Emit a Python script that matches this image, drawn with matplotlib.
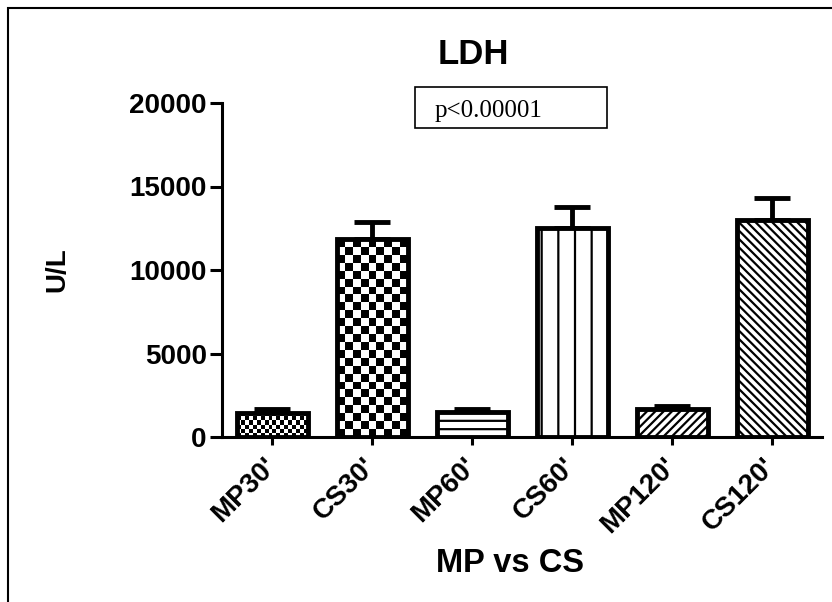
import numpy as np
import matplotlib
matplotlib.use('Agg')
import matplotlib.pyplot as plt
from matplotlib.patches import Rectangle

W, H = 832, 602

groups = ["MP30'", "CS30'", "MP60'", "CS60'", "MP120'", "CS120'"]
ldh_mean = [1450, 11850, 1500, 12500, 1650, 13000]
ldh_sem = [200, 1050, 200, 1290, 220, 1340]
yticks = [0, 5000, 10000, 15000, 20000]

# fill style per bar: ('check', square size px) or hatch string
fills = [('check', 4), ('check', 8), ('hatch', '--'), ('hatch', '|'),
         ('hatch', '////'), ('hatch', '\\\\\\\\')]

plt.rcParams['font.family'] = ['Liberation Sans', 'DejaVu Sans']
plt.rcParams['font.weight'] = 'bold'
plt.rcParams['hatch.linewidth'] = 1.6


def px(x, y):
    # figure pixel (from top-left) -> figure fraction
    return x / W, 1 - y / H


def checker_fill(ax, bar, sq_px, px_per_x, px_per_y):
    # checkerboard inside a bar, clipped to the bar outline
    x0 = bar.get_x()
    x1 = x0 + bar.get_width()
    h = bar.get_height()
    ncol = max(1, int(round(bar.get_width() * px_per_x / sq_px)))
    nrow = max(1, int(round(h * px_per_y / sq_px)))
    board = (np.add.outer(np.arange(nrow), np.arange(ncol)) % 2).astype(float)
    im = ax.imshow(board, cmap='gray', extent=(x0, x1, 0, h), origin='lower',
                   interpolation='nearest', aspect='auto', zorder=2)
    im.set_clip_path(bar)


def main():
    fig = plt.figure(figsize=(W / 100, H / 100), dpi=100)
    left, top = px(222, 103)
    right, bottom = px(822, 437)
    ax = fig.add_axes([left, bottom, right - left, top - bottom])

    x = np.arange(len(groups))
    ax.errorbar(x, ldh_mean, yerr=[np.zeros(len(x)), ldh_sem], fmt='none',
                ecolor='black', elinewidth=3.5, capsize=13, capthick=3.5, zorder=1)

    bars = ax.bar(x, ldh_mean, width=0.71, facecolor='white', edgecolor='black',
                  linewidth=3.5, zorder=3)

    ax.set_xlim(-0.5, 5.5)
    ax.set_ylim(0, 20000)
    px_per_x = 600 / 6
    px_per_y = 334 / 20000

    for bar, (kind, val) in zip(bars, fills):
        if kind == 'check':
            bar.set_facecolor('none')
            checker_fill(ax, bar, val, px_per_x, px_per_y)
        else:
            bar.set_hatch(val)

    ax.set_yticks(yticks)
    ax.set_yticklabels([str(t) for t in yticks], fontsize=20, fontweight='bold')
    ax.set_xticks(x)
    ax.set_xticklabels(groups, fontsize=20, fontweight='bold', rotation=45,
                       ha='right', va='center', rotation_mode='anchor')
    ax.tick_params(axis='y', length=9, width=2.2, pad=2)
    ax.tick_params(axis='x', length=6, width=2.2, pad=12)

    for side in ['top', 'right']:
        ax.spines[side].set_visible(False)
    for side in ['left', 'bottom']:
        ax.spines[side].set_linewidth(2.2)

    # title, axis labels
    fig.text(*px(473, 54), 'LDH', fontsize=25, fontweight='bold', ha='center', va='center')
    fig.text(*px(510, 564), 'MP vs CS', fontsize=23.5, fontweight='bold', ha='center', va='center')
    fig.text(*px(57, 270), 'U/L', fontsize=20, fontweight='bold', ha='center', va='center',
             rotation=90)

    # p-value box
    bx0, by0 = px(415, 128)
    bx1, by1 = px(607, 87)
    fig.add_artist(Rectangle((bx0, by0), bx1 - bx0, by1 - by0, transform=fig.transFigure,
                             fill=False, edgecolor='black', linewidth=1.2))
    fig.text(*px(435, 117), 'p<0.00001', fontsize=18, family='Liberation Serif',
             fontweight='normal', ha='left', va='baseline')

    # outer frame (only top and left show)
    fx0, fy0 = px(8, 700)
    fx1, fy1 = px(900, 8)
    fig.add_artist(Rectangle((fx0, fy0), fx1 - fx0, fy1 - fy0, transform=fig.transFigure,
                             fill=False, edgecolor='black', linewidth=1.5))

    fig.savefig('out.png', dpi=100)


if __name__ == '__main__':
    main()
